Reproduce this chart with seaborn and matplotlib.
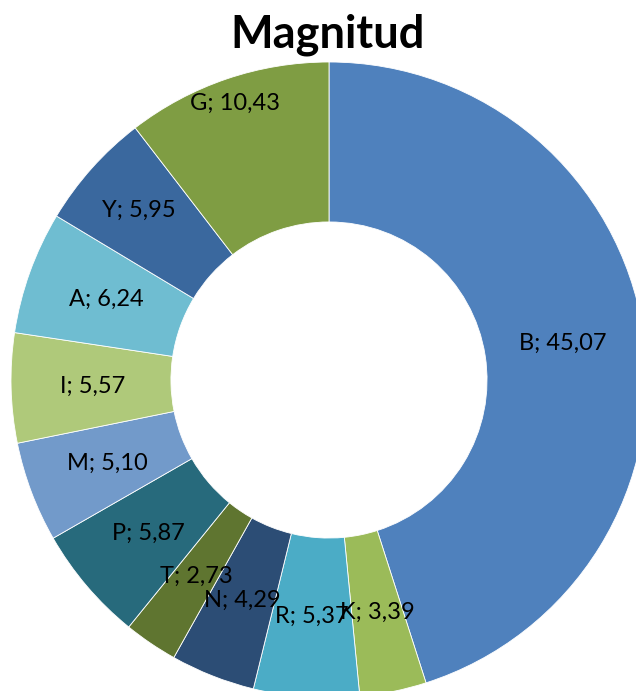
import matplotlib
matplotlib.use("Agg")
import matplotlib.pyplot as plt
import numpy as np
import seaborn as sns

# Data
categories = ["B", "K", "R", "N", "T", "P", "M", "I", "A", "Y", "G"]
values = [45.07, 3.39, 5.37, 4.29, 2.73, 5.87, 5.10, 5.57, 6.24, 5.95, 10.43]
title = "Magnitud"

# Styling
colors = ["#4F81BD", "#9BBB59", "#4BACC6", "#2C4D75", "#5F7530", "#276A7C",
          "#729ACA", "#AFC97A", "#6FBDD1", "#3A689E", "#7F9D43"]
label_radius = [0.745, 0.745, 0.745, 0.745, 0.745, 0.745, 0.745, 0.745, 0.745, 0.80, 0.92]

sns.set_theme(style="white")
plt.rcParams["font.family"] = ["Lato", "DejaVu Sans"]

W, H = 636, 691
fig = plt.figure(figsize=(W / 100, H / 100), dpi=100)
fig.patch.set_facecolor("white")

# Donut centre at (329, 380) px from top-left, outer radius 318 px
cx, cy, R = 329, 380, 318
ax = fig.add_axes([(cx - R) / W, (H - cy - R) / H, 2 * R / W, 2 * R / H])
ax.set_xlim(-1, 1)
ax.set_ylim(-1, 1)
ax.axis("off")

wedges, _ = ax.pie(
    values,
    colors=colors,
    startangle=90,
    counterclock=False,
    radius=1.0,
    wedgeprops=dict(width=0.503, edgecolor="white", linewidth=0.6),
)
ax.set_xlim(-1, 1)
ax.set_ylim(-1, 1)

for w, cat, val, r in zip(wedges, categories, values, label_radius):
    mid = np.deg2rad((w.theta1 + w.theta2) / 2)
    txt = f"{cat}; {val:.2f}".replace(".", ",")
    ax.text(r * np.cos(mid), r * np.sin(mid), txt, ha="center", va="center",
            fontsize=17, color="black", clip_on=False)

fig.text(328 / W, (H - 48) / H, title, ha="center", va="baseline",
         fontsize=32.5, fontweight="bold", color="black")

fig.savefig("out.png", dpi=100)
